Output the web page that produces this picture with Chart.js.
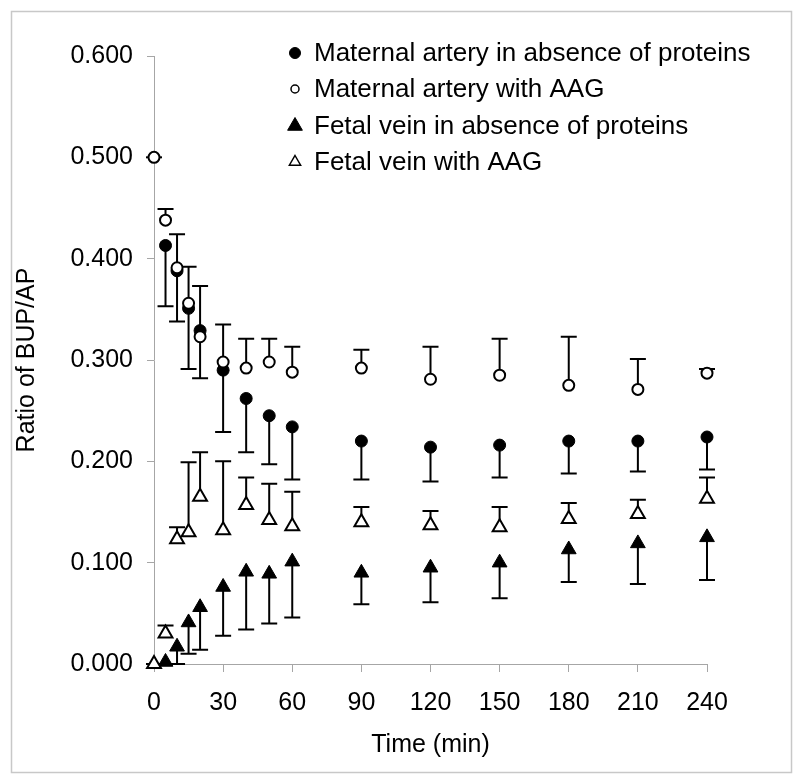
<!DOCTYPE html>
<html>
<head>
<meta charset="utf-8">
<script src="https://cdn.jsdelivr.net/npm/chart.js@4/dist/chart.umd.min.js"></script>
<style>
  html, body { margin: 0; padding: 0; background: #ffffff; }
  canvas { display: block; }
</style>
</head>
<body>
<canvas id="ratioChart" width="800" height="782"></canvas>
<script>
// Sampling times (min)
const times = [0, 5, 10, 15, 20, 30, 40, 50, 60, 90, 120, 150, 180, 210, 240];

// Maternal artery in absence of proteins (mean, lower SD end)
const maternalNoProt = [null, 0.413, 0.388, 0.351, 0.329, 0.290, 0.262, 0.245, 0.234, 0.220, 0.214, 0.216, 0.220, 0.220, 0.224];
const maternalNoProtLow = [null, 0.353, 0.338, 0.291, 0.282, 0.229, 0.209, 0.197, 0.182, 0.182, 0.180, 0.184, 0.188, 0.190, 0.192];

// Maternal artery with AAG (mean, upper SD end)
const maternalAAG = [0.500, 0.438, 0.391, 0.356, 0.323, 0.298, 0.292, 0.298, 0.288, 0.292, 0.281, 0.285, 0.275, 0.271, 0.287];
const maternalAAGHigh = [0.500, 0.449, 0.424, 0.392, 0.373, 0.335, 0.321, 0.321, 0.313, 0.310, 0.313, 0.321, 0.323, 0.301, 0.291];

// Fetal vein in absence of proteins (mean, lower SD end)
const fetalNoProt = [null, 0.002, 0.017, 0.041, 0.056, 0.076, 0.091, 0.089, 0.101, 0.090, 0.095, 0.100, 0.113, 0.119, 0.125];
const fetalNoProtLow = [null, 0.000, 0.000, 0.010, 0.014, 0.028, 0.034, 0.040, 0.046, 0.059, 0.061, 0.065, 0.081, 0.079, 0.083];

// Fetal vein with AAG (mean, upper SD end)
const fetalAAG = [0.000, 0.030, 0.123, 0.130, 0.165, 0.132, 0.157, 0.142, 0.136, 0.140, 0.137, 0.135, 0.143, 0.148, 0.163];
const fetalAAGHigh = [0.000, 0.038, 0.135, 0.199, 0.209, 0.200, 0.184, 0.178, 0.170, 0.155, 0.151, 0.155, 0.159, 0.162, 0.184];

// Axis ticks
const xTicks = [0, 30, 60, 90, 120, 150, 180, 210, 240];
const yTicks = [0, 0.1, 0.2, 0.3, 0.4, 0.5, 0.6];

const FONT = "'Liberation Sans', Arial, Helvetica, sans-serif";
const AXIS_GRAY = "#a6a6a6";

function toPoints(values) {
  return times
    .map((t, i) => ({ x: t, y: values[i] }))
    .filter((p) => p.y !== null);
}

function toEnds(values, ends) {
  return times
    .map((t, i) => ({ x: t, y: values[i], end: ends[i] }))
    .filter((p) => p.y !== null);
}

// Error bars drawn under the markers
const errorBars = {
  id: "errorBars",
  beforeDatasetsDraw(chart) {
    const ctx = chart.ctx;
    const xs = chart.scales.x;
    const ys = chart.scales.y;
    ctx.save();
    ctx.strokeStyle = "#000000";
    ctx.lineWidth = 2;
    chart.data.datasets.forEach((ds) => {
      ds.errorEnds.forEach((p) => {
        if (p.end === p.y && p.x !== 0 && p.x !== 240) return;
        const x = xs.getPixelForValue(p.x);
        const y0 = ys.getPixelForValue(p.y);
        const y1 = ys.getPixelForValue(p.end);
        ctx.beginPath();
        ctx.moveTo(x, y0);
        ctx.lineTo(x, y1);
        ctx.moveTo(x - 8, y1);
        ctx.lineTo(x + 8, y1);
        ctx.stroke();
      });
    });
    ctx.restore();
  },
};

// Frame around the whole figure and the legend inside the plot
const frameAndLegend = {
  id: "frameAndLegend",
  beforeDraw(chart) {
    const ctx = chart.ctx;
    ctx.save();
    ctx.fillStyle = "#ffffff";
    ctx.fillRect(0, 0, chart.width, chart.height);
    ctx.strokeStyle = "#c8c8c8";
    ctx.lineWidth = 1.5;
    ctx.strokeRect(11.5, 11.5, 780, 761);
    ctx.restore();
  },
  afterDraw(chart) {
    const ctx = chart.ctx;
    const rows = [53, 89, 126, 162];
    ctx.save();
    ctx.font = "26px " + FONT;
    ctx.textBaseline = "middle";
    chart.data.datasets.forEach((ds) => {
      const y = rows[ds.legendRow];
      drawMarker(ctx, ds.legendMarker, 295, y);
      ctx.fillStyle = "#000000";
      ctx.fillText(ds.label, 314, y + 1);
    });
    ctx.restore();
  },
};

function drawMarker(ctx, m, x, y) {
  ctx.beginPath();
  if (m.shape === "circle") {
    ctx.arc(x, y, m.r, 0, Math.PI * 2);
  } else {
    ctx.moveTo(x, y - m.r);
    ctx.lineTo(x + m.r * 0.866, y + m.r * 0.5);
    ctx.lineTo(x - m.r * 0.866, y + m.r * 0.5);
    ctx.closePath();
  }
  ctx.fillStyle = m.filled ? "#000000" : "#ffffff";
  ctx.fill();
  ctx.strokeStyle = "#000000";
  ctx.lineWidth = m.filled ? 1 : 1.5;
  ctx.stroke();
}

const datasets = [
  {
    label: "Maternal artery in absence of proteins",
    data: toPoints(maternalNoProt),
    errorEnds: toEnds(maternalNoProt, maternalNoProtLow),
    pointStyle: "circle",
    pointRadius: 6,
    pointBorderWidth: 1,
    backgroundColor: "#000000",
    borderColor: "#000000",
    order: 2,
    legendRow: 0,
    legendMarker: { shape: "circle", r: 5.5, filled: true },
  },
  {
    label: "Maternal artery with AAG",
    data: toPoints(maternalAAG),
    errorEnds: toEnds(maternalAAG, maternalAAGHigh),
    pointStyle: "circle",
    pointRadius: 5.5,
    pointBorderWidth: 2,
    backgroundColor: "#ffffff",
    borderColor: "#000000",
    order: 1,
    legendRow: 1,
    legendMarker: { shape: "circle", r: 4, filled: false },
  },
  {
    label: "Fetal vein in absence of proteins",
    data: toPoints(fetalNoProt),
    errorEnds: toEnds(fetalNoProt, fetalNoProtLow),
    pointStyle: "triangle",
    pointRadius: 8.5,
    pointBorderWidth: 1,
    backgroundColor: "#000000",
    borderColor: "#000000",
    order: 3,
    legendRow: 2,
    legendMarker: { shape: "triangle", r: 8.5, filled: true },
  },
  {
    label: "Fetal vein with AAG",
    data: toPoints(fetalAAG),
    errorEnds: toEnds(fetalAAG, fetalAAGHigh),
    pointStyle: "triangle",
    pointRadius: 8,
    pointBorderWidth: 2,
    backgroundColor: "#ffffff",
    borderColor: "#000000",
    order: 0,
    legendRow: 3,
    legendMarker: { shape: "triangle", r: 6.5, filled: false },
  },
];

datasets.forEach((ds) => {
  ds.showLine = false;
  ds.clip = false;
  ds.pointHoverRadius = ds.pointRadius;
});

const ctx = document.getElementById("ratioChart").getContext("2d");
const chart = new Chart(ctx, {
  type: "scatter",
  data: { datasets: datasets },
  options: {
    responsive: false,
    animation: false,
    devicePixelRatio: 1,
    events: [],
    layout: {
      padding: { left: 12, right: 93, top: 56, bottom: 12 },
    },
    plugins: {
      legend: { display: false },
      tooltip: { enabled: false },
    },
    scales: {
      x: {
        type: "linear",
        min: xTicks[0],
        max: xTicks[xTicks.length - 1],
        afterBuildTicks(scale) {
          scale.ticks = xTicks.map((v) => ({ value: v }));
        },
        afterFit(scale) {
          scale.height = 782 - 664 - 12;
        },
        grid: {
          drawOnChartArea: false,
          drawTicks: true,
          tickLength: 8,
          color: AXIS_GRAY,
        },
        border: { display: true, color: AXIS_GRAY, width: 1 },
        ticks: {
          color: "#000000",
          padding: 16,
          maxRotation: 0,
          autoSkip: false,
          font: { family: FONT, size: 25 },
        },
        title: {
          display: true,
          text: "Time (min)",
          color: "#000000",
          padding: { top: 0, bottom: 10 },
          font: { family: FONT, size: 25 },
        },
      },
      y: {
        type: "linear",
        min: yTicks[0],
        max: yTicks[yTicks.length - 1],
        afterBuildTicks(scale) {
          scale.ticks = yTicks.map((v) => ({ value: v }));
        },
        afterFit(scale) {
          scale.width = 154 - 12;
        },
        grid: {
          drawOnChartArea: false,
          drawTicks: true,
          tickLength: 7,
          color: AXIS_GRAY,
        },
        border: { display: true, color: AXIS_GRAY, width: 1 },
        ticks: {
          color: "#000000",
          padding: 14,
          autoSkip: false,
          font: { family: FONT, size: 25 },
          callback: (v) => Number(v).toFixed(3),
        },
        title: {
          display: true,
          text: "Ratio of BUP/AP",
          color: "#000000",
          padding: { top: 0, bottom: 0 },
          font: { family: FONT, size: 25 },
        },
      },
    },
  },
  plugins: [frameAndLegend, errorBars],
});
</script>
</body>
</html>
